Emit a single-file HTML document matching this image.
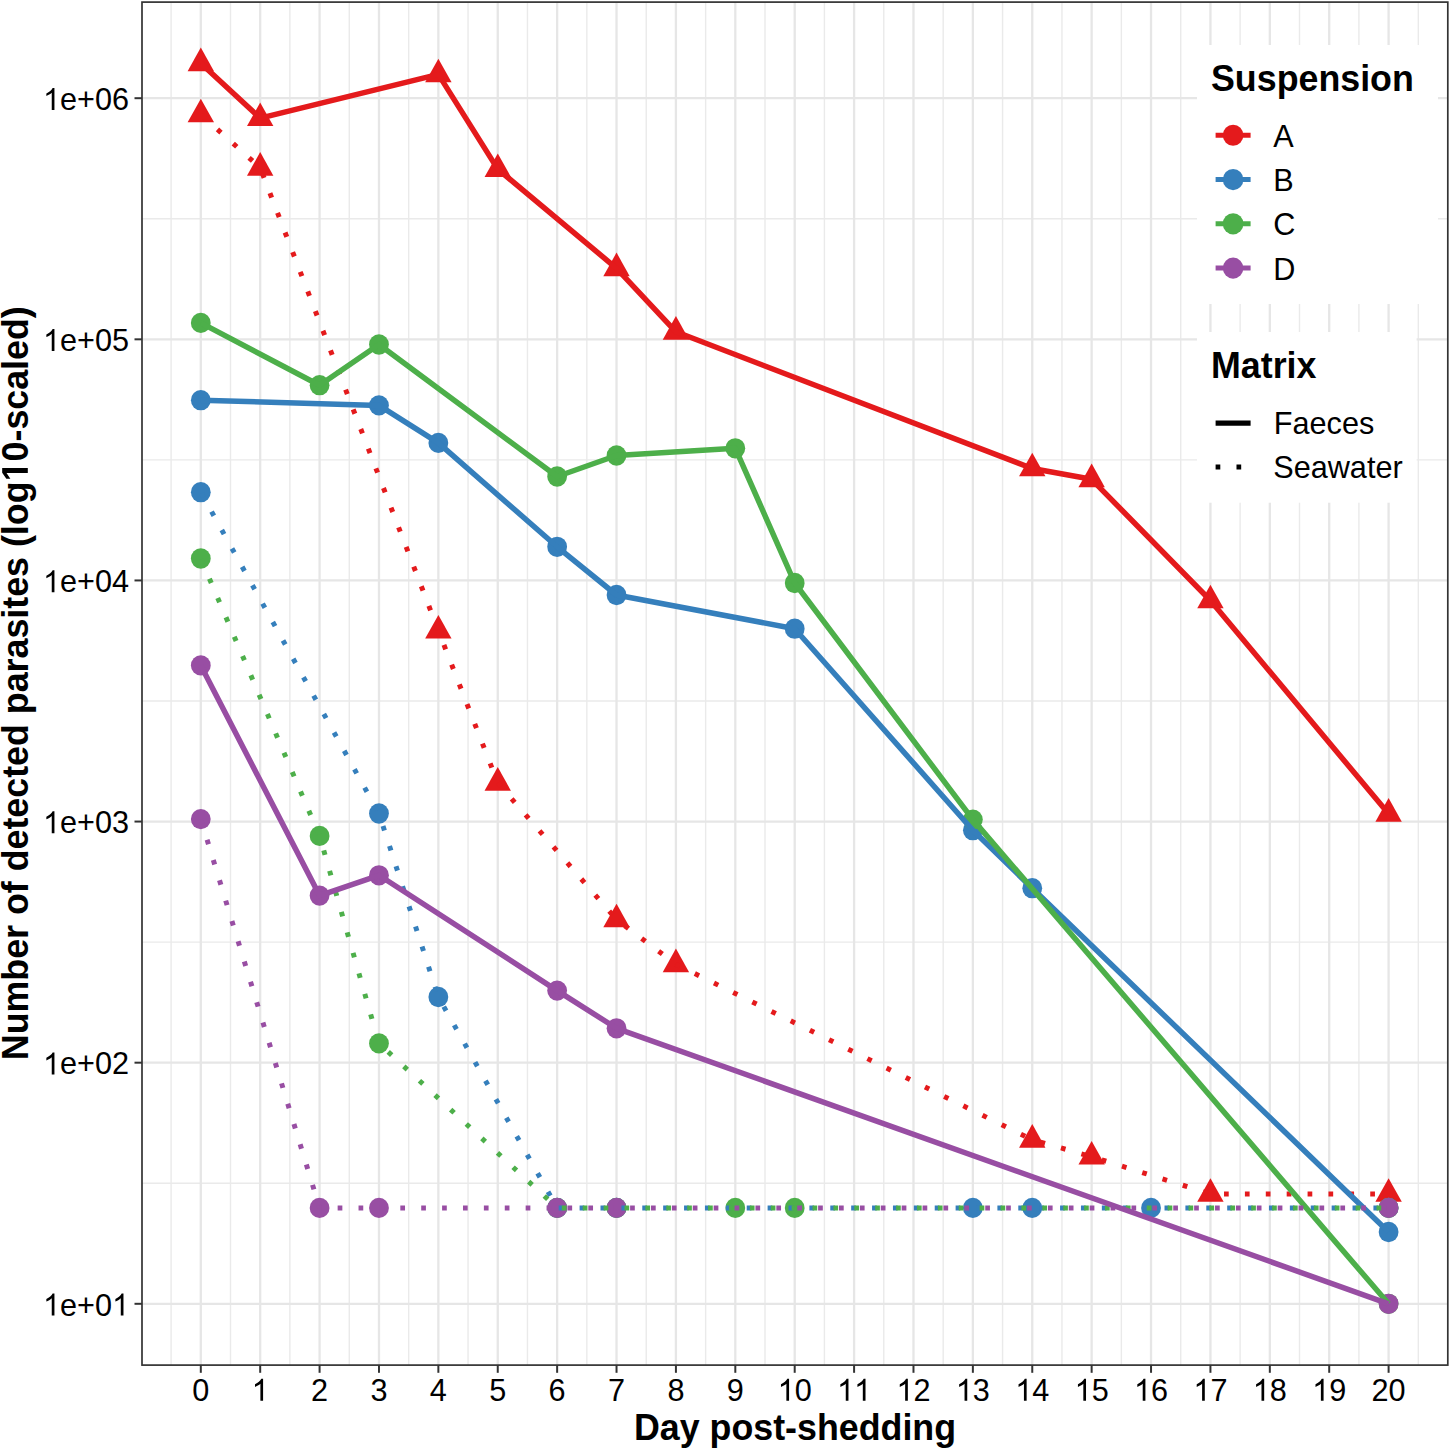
<!DOCTYPE html>
<html><head><meta charset="utf-8"><title>Parasite counts</title><style>html,body{margin:0;padding:0;background:#fff;overflow:hidden;width:1450px;height:1449px}svg{display:block}text{font-family:"Liberation Sans",sans-serif}</style></head><body>
<svg width="1450" height="1449" viewBox="0 0 1450 1449">
<rect x="0" y="0" width="1450" height="1449" fill="#fff"/>
<g stroke="#EAEAEA" stroke-width="1.4"><line x1="142.0" y1="1183.24" x2="1447.8" y2="1183.24"/><line x1="142.0" y1="942.12" x2="1447.8" y2="942.12"/><line x1="142.0" y1="701.00" x2="1447.8" y2="701.00"/><line x1="142.0" y1="459.88" x2="1447.8" y2="459.88"/><line x1="142.0" y1="218.76" x2="1447.8" y2="218.76"/><line x1="171.11" y1="2.1" x2="171.11" y2="1365.1"/><line x1="230.50" y1="2.1" x2="230.50" y2="1365.1"/><line x1="289.88" y1="2.1" x2="289.88" y2="1365.1"/><line x1="349.27" y1="2.1" x2="349.27" y2="1365.1"/><line x1="408.67" y1="2.1" x2="408.67" y2="1365.1"/><line x1="468.06" y1="2.1" x2="468.06" y2="1365.1"/><line x1="527.44" y1="2.1" x2="527.44" y2="1365.1"/><line x1="586.84" y1="2.1" x2="586.84" y2="1365.1"/><line x1="646.23" y1="2.1" x2="646.23" y2="1365.1"/><line x1="705.62" y1="2.1" x2="705.62" y2="1365.1"/><line x1="765.01" y1="2.1" x2="765.01" y2="1365.1"/><line x1="824.39" y1="2.1" x2="824.39" y2="1365.1"/><line x1="883.79" y1="2.1" x2="883.79" y2="1365.1"/><line x1="943.17" y1="2.1" x2="943.17" y2="1365.1"/><line x1="1002.57" y1="2.1" x2="1002.57" y2="1365.1"/><line x1="1061.95" y1="2.1" x2="1061.95" y2="1365.1"/><line x1="1121.35" y1="2.1" x2="1121.35" y2="1365.1"/><line x1="1180.74" y1="2.1" x2="1180.74" y2="1365.1"/><line x1="1240.12" y1="2.1" x2="1240.12" y2="1365.1"/><line x1="1299.51" y1="2.1" x2="1299.51" y2="1365.1"/><line x1="1358.90" y1="2.1" x2="1358.90" y2="1365.1"/><line x1="1418.30" y1="2.1" x2="1418.30" y2="1365.1"/></g><g stroke="#E6E6E6" stroke-width="2.3"><line x1="142.0" y1="1303.80" x2="1447.8" y2="1303.80"/><line x1="142.0" y1="1062.68" x2="1447.8" y2="1062.68"/><line x1="142.0" y1="821.56" x2="1447.8" y2="821.56"/><line x1="142.0" y1="580.44" x2="1447.8" y2="580.44"/><line x1="142.0" y1="339.32" x2="1447.8" y2="339.32"/><line x1="142.0" y1="98.20" x2="1447.8" y2="98.20"/><line x1="200.80" y1="2.1" x2="200.80" y2="1365.1"/><line x1="260.19" y1="2.1" x2="260.19" y2="1365.1"/><line x1="319.58" y1="2.1" x2="319.58" y2="1365.1"/><line x1="378.97" y1="2.1" x2="378.97" y2="1365.1"/><line x1="438.36" y1="2.1" x2="438.36" y2="1365.1"/><line x1="497.75" y1="2.1" x2="497.75" y2="1365.1"/><line x1="557.14" y1="2.1" x2="557.14" y2="1365.1"/><line x1="616.53" y1="2.1" x2="616.53" y2="1365.1"/><line x1="675.92" y1="2.1" x2="675.92" y2="1365.1"/><line x1="735.31" y1="2.1" x2="735.31" y2="1365.1"/><line x1="794.70" y1="2.1" x2="794.70" y2="1365.1"/><line x1="854.09" y1="2.1" x2="854.09" y2="1365.1"/><line x1="913.48" y1="2.1" x2="913.48" y2="1365.1"/><line x1="972.87" y1="2.1" x2="972.87" y2="1365.1"/><line x1="1032.26" y1="2.1" x2="1032.26" y2="1365.1"/><line x1="1091.65" y1="2.1" x2="1091.65" y2="1365.1"/><line x1="1151.04" y1="2.1" x2="1151.04" y2="1365.1"/><line x1="1210.43" y1="2.1" x2="1210.43" y2="1365.1"/><line x1="1269.82" y1="2.1" x2="1269.82" y2="1365.1"/><line x1="1329.21" y1="2.1" x2="1329.21" y2="1365.1"/><line x1="1388.60" y1="2.1" x2="1388.60" y2="1365.1"/></g>
<polygon points="200.80,47.60 214.00,71.15 187.60,71.15" fill="#E41A1C"/>
<polygon points="260.19,102.50 273.39,126.05 246.99,126.05" fill="#E41A1C"/>
<polygon points="438.36,58.70 451.56,82.25 425.16,82.25" fill="#E41A1C"/>
<polygon points="497.75,153.40 510.95,176.95 484.55,176.95" fill="#E41A1C"/>
<polygon points="616.53,252.60 629.73,276.15 603.33,276.15" fill="#E41A1C"/>
<polygon points="675.92,316.10 689.12,339.65 662.72,339.65" fill="#E41A1C"/>
<polygon points="1032.26,452.80 1045.46,476.35 1019.06,476.35" fill="#E41A1C"/>
<polygon points="1091.65,463.60 1104.85,487.15 1078.45,487.15" fill="#E41A1C"/>
<polygon points="1210.43,584.80 1223.63,608.35 1197.23,608.35" fill="#E41A1C"/>
<polygon points="1388.60,798.10 1401.80,821.65 1375.40,821.65" fill="#E41A1C"/>
<polygon points="200.80,98.70 214.00,122.25 187.60,122.25" fill="#E41A1C"/>
<polygon points="260.19,152.10 273.39,175.65 246.99,175.65" fill="#E41A1C"/>
<polygon points="438.36,614.90 451.56,638.45 425.16,638.45" fill="#E41A1C"/>
<polygon points="497.75,767.10 510.95,790.65 484.55,790.65" fill="#E41A1C"/>
<polygon points="616.53,903.80 629.73,927.35 603.33,927.35" fill="#E41A1C"/>
<polygon points="675.92,948.60 689.12,972.15 662.72,972.15" fill="#E41A1C"/>
<polygon points="1032.26,1124.10 1045.46,1147.65 1019.06,1147.65" fill="#E41A1C"/>
<polygon points="1091.65,1141.00 1104.85,1164.55 1078.45,1164.55" fill="#E41A1C"/>
<polygon points="1210.43,1178.20 1223.63,1201.75 1197.23,1201.75" fill="#E41A1C"/>
<polygon points="1388.60,1178.20 1401.80,1201.75 1375.40,1201.75" fill="#E41A1C"/>
<ellipse cx="200.80" cy="400.20" rx="9.90" ry="10.15" fill="#357FBC"/>
<ellipse cx="378.97" cy="405.40" rx="9.90" ry="10.15" fill="#357FBC"/>
<ellipse cx="438.36" cy="442.90" rx="9.90" ry="10.15" fill="#357FBC"/>
<ellipse cx="557.14" cy="546.80" rx="9.90" ry="10.15" fill="#357FBC"/>
<ellipse cx="616.53" cy="595.00" rx="9.90" ry="10.15" fill="#357FBC"/>
<ellipse cx="794.70" cy="628.70" rx="9.90" ry="10.15" fill="#357FBC"/>
<ellipse cx="972.87" cy="830.20" rx="9.90" ry="10.15" fill="#357FBC"/>
<ellipse cx="1032.26" cy="888.20" rx="9.90" ry="10.15" fill="#357FBC"/>
<ellipse cx="1388.60" cy="1232.00" rx="9.90" ry="10.15" fill="#357FBC"/>
<ellipse cx="200.80" cy="492.20" rx="9.90" ry="10.15" fill="#357FBC"/>
<ellipse cx="378.97" cy="813.50" rx="9.90" ry="10.15" fill="#357FBC"/>
<ellipse cx="438.36" cy="997.00" rx="9.90" ry="10.15" fill="#357FBC"/>
<ellipse cx="557.14" cy="1207.90" rx="9.90" ry="10.15" fill="#357FBC"/>
<ellipse cx="616.53" cy="1207.90" rx="9.90" ry="10.15" fill="#357FBC"/>
<ellipse cx="972.87" cy="1207.90" rx="9.90" ry="10.15" fill="#357FBC"/>
<ellipse cx="1032.26" cy="1207.90" rx="9.90" ry="10.15" fill="#357FBC"/>
<ellipse cx="1151.04" cy="1207.90" rx="9.90" ry="10.15" fill="#357FBC"/>
<ellipse cx="1388.60" cy="1207.90" rx="9.90" ry="10.15" fill="#357FBC"/>
<ellipse cx="200.80" cy="322.90" rx="9.90" ry="10.15" fill="#4DAF4A"/>
<ellipse cx="319.58" cy="385.20" rx="9.90" ry="10.15" fill="#4DAF4A"/>
<ellipse cx="378.97" cy="344.50" rx="9.90" ry="10.15" fill="#4DAF4A"/>
<ellipse cx="557.14" cy="476.50" rx="9.90" ry="10.15" fill="#4DAF4A"/>
<ellipse cx="616.53" cy="455.50" rx="9.90" ry="10.15" fill="#4DAF4A"/>
<ellipse cx="735.31" cy="448.30" rx="9.90" ry="10.15" fill="#4DAF4A"/>
<ellipse cx="794.70" cy="583.00" rx="9.90" ry="10.15" fill="#4DAF4A"/>
<ellipse cx="972.87" cy="819.60" rx="9.90" ry="10.15" fill="#4DAF4A"/>
<ellipse cx="1388.60" cy="1303.80" rx="9.90" ry="10.15" fill="#4DAF4A"/>
<ellipse cx="200.80" cy="558.50" rx="9.90" ry="10.15" fill="#4DAF4A"/>
<ellipse cx="319.58" cy="835.90" rx="9.90" ry="10.15" fill="#4DAF4A"/>
<ellipse cx="378.97" cy="1043.40" rx="9.90" ry="10.15" fill="#4DAF4A"/>
<ellipse cx="557.14" cy="1207.90" rx="9.90" ry="10.15" fill="#4DAF4A"/>
<ellipse cx="616.53" cy="1207.90" rx="9.90" ry="10.15" fill="#4DAF4A"/>
<ellipse cx="735.31" cy="1207.90" rx="9.90" ry="10.15" fill="#4DAF4A"/>
<ellipse cx="794.70" cy="1207.90" rx="9.90" ry="10.15" fill="#4DAF4A"/>
<ellipse cx="1388.60" cy="1207.90" rx="9.90" ry="10.15" fill="#4DAF4A"/>
<ellipse cx="200.80" cy="665.40" rx="9.90" ry="10.15" fill="#984EA3"/>
<ellipse cx="319.58" cy="895.60" rx="9.90" ry="10.15" fill="#984EA3"/>
<ellipse cx="378.97" cy="875.30" rx="9.90" ry="10.15" fill="#984EA3"/>
<ellipse cx="557.14" cy="990.60" rx="9.90" ry="10.15" fill="#984EA3"/>
<ellipse cx="616.53" cy="1028.30" rx="9.90" ry="10.15" fill="#984EA3"/>
<ellipse cx="1388.60" cy="1303.80" rx="9.90" ry="10.15" fill="#984EA3"/>
<ellipse cx="200.80" cy="819.10" rx="9.90" ry="10.15" fill="#984EA3"/>
<ellipse cx="319.58" cy="1207.90" rx="9.90" ry="10.15" fill="#984EA3"/>
<ellipse cx="378.97" cy="1207.90" rx="9.90" ry="10.15" fill="#984EA3"/>
<ellipse cx="557.14" cy="1207.90" rx="9.90" ry="10.15" fill="#984EA3"/>
<ellipse cx="616.53" cy="1207.90" rx="9.90" ry="10.15" fill="#984EA3"/>
<ellipse cx="1388.60" cy="1207.90" rx="9.90" ry="10.15" fill="#984EA3"/>
<polyline points="200.80,63.30 260.19,118.20 438.36,74.40 497.75,169.10 616.53,268.30 675.92,331.80 1032.26,468.50 1091.65,479.30 1210.43,600.50 1388.60,813.80" fill="none" stroke="#E41A1C" stroke-width="5.5" stroke-linejoin="round" stroke-linecap="butt"/>
<g stroke="#E41A1C" stroke-width="5.0" stroke-linecap="butt" fill="none"><line x1="200.80" y1="114.40" x2="260.19" y2="167.80" stroke-dasharray="4.7 16.540" stroke-dashoffset="20.050"/><line x1="260.19" y1="167.80" x2="438.36" y2="630.60" stroke-dasharray="4.7 16.360" stroke-dashoffset="14.930"/><line x1="438.36" y1="630.60" x2="497.75" y2="782.80" stroke-dasharray="4.7 16.480" stroke-dashoffset="5.820"/><line x1="497.75" y1="782.80" x2="616.53" y2="919.50" stroke-dasharray="4.7 16.550" stroke-dashoffset="0.060"/><line x1="616.53" y1="919.50" x2="675.92" y2="964.30" stroke-dasharray="4.7 16.540" stroke-dashoffset="11.030"/><line x1="675.92" y1="964.30" x2="1032.26" y2="1139.80" stroke-dasharray="4.7 16.680" stroke-dashoffset="0.310"/><line x1="1032.26" y1="1139.80" x2="1091.65" y2="1156.70" stroke-dasharray="4.7 16.540" stroke-dashoffset="12.630"/><line x1="1091.65" y1="1156.70" x2="1210.43" y2="1193.90" stroke-dasharray="4.7 16.540" stroke-dashoffset="10.690"/><line x1="1210.43" y1="1193.90" x2="1388.60" y2="1193.90" stroke-dasharray="4.7 16.190" stroke-dashoffset="7.300"/></g>
<polyline points="200.80,400.20 378.97,405.40 438.36,442.90 557.14,546.80 616.53,595.00 794.70,628.70 972.87,830.20 1032.26,888.20 1388.60,1232.00" fill="none" stroke="#357FBC" stroke-width="5.5" stroke-linejoin="round" stroke-linecap="butt"/>
<g stroke="#357FBC" stroke-width="5.0" stroke-linecap="butt" fill="none"><line x1="200.80" y1="492.20" x2="378.97" y2="813.50" stroke-dasharray="4.7 16.340" stroke-dashoffset="19.870"/><line x1="378.97" y1="813.50" x2="438.36" y2="997.00" stroke-dasharray="4.7 16.430" stroke-dashoffset="8.030"/><line x1="438.36" y1="997.00" x2="557.14" y2="1207.90" stroke-dasharray="4.7 16.540" stroke-dashoffset="10.190"/><line x1="557.14" y1="1207.90" x2="1388.60" y2="1207.90" stroke-dasharray="4.7 16.190" stroke-dashoffset="19.320"/></g>
<polyline points="200.80,322.90 319.58,385.20 378.97,344.50 557.14,476.50 616.53,455.50 735.31,448.30 794.70,583.00 972.87,819.60 1388.60,1303.80" fill="none" stroke="#4DAF4A" stroke-width="5.5" stroke-linejoin="round" stroke-linecap="butt"/>
<g stroke="#4DAF4A" stroke-width="5.0" stroke-linecap="butt" fill="none"><line x1="200.80" y1="558.50" x2="319.58" y2="835.90" stroke-dasharray="4.7 16.340" stroke-dashoffset="20.160"/><line x1="319.58" y1="835.90" x2="378.97" y2="1043.40" stroke-dasharray="4.7 16.620" stroke-dashoffset="6.230"/><line x1="378.97" y1="1043.40" x2="557.14" y2="1207.90" stroke-dasharray="4.7 16.540" stroke-dashoffset="8.630"/><line x1="557.14" y1="1207.90" x2="1388.60" y2="1207.90" stroke-dasharray="4.7 16.190" stroke-dashoffset="16.200"/></g>
<polyline points="200.80,665.40 319.58,895.60 378.97,875.30 557.14,990.60 616.53,1028.30 1388.60,1303.80" fill="none" stroke="#984EA3" stroke-width="5.5" stroke-linejoin="round" stroke-linecap="butt"/>
<g stroke="#984EA3" stroke-width="5.0" stroke-linecap="butt" fill="none"><line x1="200.80" y1="819.10" x2="319.58" y2="1207.90" stroke-dasharray="4.7 16.530" stroke-dashoffset="20.900"/><line x1="319.58" y1="1207.90" x2="1388.60" y2="1207.90" stroke-dasharray="4.7 16.190" stroke-dashoffset="2.820"/></g>
<rect x="142.0" y="2.1" width="1305.80" height="1363.00" fill="none" stroke="#333333" stroke-width="1.7"/>
<g stroke="#333333" stroke-width="2"><line x1="134.5" y1="1303.80" x2="142.0" y2="1303.80"/><line x1="134.5" y1="1062.68" x2="142.0" y2="1062.68"/><line x1="134.5" y1="821.56" x2="142.0" y2="821.56"/><line x1="134.5" y1="580.44" x2="142.0" y2="580.44"/><line x1="134.5" y1="339.32" x2="142.0" y2="339.32"/><line x1="134.5" y1="98.20" x2="142.0" y2="98.20"/><line x1="200.80" y1="1365.1" x2="200.80" y2="1372.8"/><line x1="260.19" y1="1365.1" x2="260.19" y2="1372.8"/><line x1="319.58" y1="1365.1" x2="319.58" y2="1372.8"/><line x1="378.97" y1="1365.1" x2="378.97" y2="1372.8"/><line x1="438.36" y1="1365.1" x2="438.36" y2="1372.8"/><line x1="497.75" y1="1365.1" x2="497.75" y2="1372.8"/><line x1="557.14" y1="1365.1" x2="557.14" y2="1372.8"/><line x1="616.53" y1="1365.1" x2="616.53" y2="1372.8"/><line x1="675.92" y1="1365.1" x2="675.92" y2="1372.8"/><line x1="735.31" y1="1365.1" x2="735.31" y2="1372.8"/><line x1="794.70" y1="1365.1" x2="794.70" y2="1372.8"/><line x1="854.09" y1="1365.1" x2="854.09" y2="1372.8"/><line x1="913.48" y1="1365.1" x2="913.48" y2="1372.8"/><line x1="972.87" y1="1365.1" x2="972.87" y2="1372.8"/><line x1="1032.26" y1="1365.1" x2="1032.26" y2="1372.8"/><line x1="1091.65" y1="1365.1" x2="1091.65" y2="1372.8"/><line x1="1151.04" y1="1365.1" x2="1151.04" y2="1372.8"/><line x1="1210.43" y1="1365.1" x2="1210.43" y2="1372.8"/><line x1="1269.82" y1="1365.1" x2="1269.82" y2="1372.8"/><line x1="1329.21" y1="1365.1" x2="1329.21" y2="1372.8"/><line x1="1388.60" y1="1365.1" x2="1388.60" y2="1372.8"/></g>
<path transform="translate(43.02,1315.50) scale(0.014966,-0.014966)" d="M763 0L583 0L583 1147C540 1106 483 1065 413 1024C343 983 280 952 223 929L223 1103C322 1149 409 1205 484 1270C559 1335 612 1400 643 1466L763 1466Z" fill="#000"/><text transform="translate(60.06,1315.50) scale(1,1.035)" font-size="30.65" text-anchor="start" fill="#000">e</text><text transform="translate(77.11,1315.50) scale(1,1.035)" font-size="30.65" text-anchor="start" fill="#000">+</text><text transform="translate(95.01,1315.50) scale(1,1.035)" font-size="30.65" text-anchor="start" fill="#000">0</text><path transform="translate(112.05,1315.50) scale(0.014966,-0.014966)" d="M763 0L583 0L583 1147C540 1106 483 1065 413 1024C343 983 280 952 223 929L223 1103C322 1149 409 1205 484 1270C559 1335 612 1400 643 1466L763 1466Z" fill="#000"/>
<path transform="translate(43.02,1074.38) scale(0.014966,-0.014966)" d="M763 0L583 0L583 1147C540 1106 483 1065 413 1024C343 983 280 952 223 929L223 1103C322 1149 409 1205 484 1270C559 1335 612 1400 643 1466L763 1466Z" fill="#000"/><text transform="translate(60.06,1074.38) scale(1,1.035)" font-size="30.65" text-anchor="start" fill="#000">e</text><text transform="translate(77.11,1074.38) scale(1,1.035)" font-size="30.65" text-anchor="start" fill="#000">+</text><text transform="translate(95.01,1074.38) scale(1,1.035)" font-size="30.65" text-anchor="start" fill="#000">0</text><text transform="translate(112.05,1074.38) scale(1,1.035)" font-size="30.65" text-anchor="start" fill="#000">2</text>
<path transform="translate(43.02,833.26) scale(0.014966,-0.014966)" d="M763 0L583 0L583 1147C540 1106 483 1065 413 1024C343 983 280 952 223 929L223 1103C322 1149 409 1205 484 1270C559 1335 612 1400 643 1466L763 1466Z" fill="#000"/><text transform="translate(60.06,833.26) scale(1,1.035)" font-size="30.65" text-anchor="start" fill="#000">e</text><text transform="translate(77.11,833.26) scale(1,1.035)" font-size="30.65" text-anchor="start" fill="#000">+</text><text transform="translate(95.01,833.26) scale(1,1.035)" font-size="30.65" text-anchor="start" fill="#000">0</text><text transform="translate(112.05,833.26) scale(1,1.035)" font-size="30.65" text-anchor="start" fill="#000">3</text>
<path transform="translate(43.02,592.14) scale(0.014966,-0.014966)" d="M763 0L583 0L583 1147C540 1106 483 1065 413 1024C343 983 280 952 223 929L223 1103C322 1149 409 1205 484 1270C559 1335 612 1400 643 1466L763 1466Z" fill="#000"/><text transform="translate(60.06,592.14) scale(1,1.035)" font-size="30.65" text-anchor="start" fill="#000">e</text><text transform="translate(77.11,592.14) scale(1,1.035)" font-size="30.65" text-anchor="start" fill="#000">+</text><text transform="translate(95.01,592.14) scale(1,1.035)" font-size="30.65" text-anchor="start" fill="#000">0</text><text transform="translate(112.05,592.14) scale(1,1.035)" font-size="30.65" text-anchor="start" fill="#000">4</text>
<path transform="translate(43.02,351.02) scale(0.014966,-0.014966)" d="M763 0L583 0L583 1147C540 1106 483 1065 413 1024C343 983 280 952 223 929L223 1103C322 1149 409 1205 484 1270C559 1335 612 1400 643 1466L763 1466Z" fill="#000"/><text transform="translate(60.06,351.02) scale(1,1.035)" font-size="30.65" text-anchor="start" fill="#000">e</text><text transform="translate(77.11,351.02) scale(1,1.035)" font-size="30.65" text-anchor="start" fill="#000">+</text><text transform="translate(95.01,351.02) scale(1,1.035)" font-size="30.65" text-anchor="start" fill="#000">0</text><text transform="translate(112.05,351.02) scale(1,1.035)" font-size="30.65" text-anchor="start" fill="#000">5</text>
<path transform="translate(43.02,109.90) scale(0.014966,-0.014966)" d="M763 0L583 0L583 1147C540 1106 483 1065 413 1024C343 983 280 952 223 929L223 1103C322 1149 409 1205 484 1270C559 1335 612 1400 643 1466L763 1466Z" fill="#000"/><text transform="translate(60.06,109.90) scale(1,1.035)" font-size="30.65" text-anchor="start" fill="#000">e</text><text transform="translate(77.11,109.90) scale(1,1.035)" font-size="30.65" text-anchor="start" fill="#000">+</text><text transform="translate(95.01,109.90) scale(1,1.035)" font-size="30.65" text-anchor="start" fill="#000">0</text><text transform="translate(112.05,109.90) scale(1,1.035)" font-size="30.65" text-anchor="start" fill="#000">6</text>
<text transform="translate(192.28,1400.80) scale(1,1.035)" font-size="30.65" text-anchor="start" fill="#000">0</text>
<path transform="translate(251.67,1400.80) scale(0.014966,-0.014966)" d="M763 0L583 0L583 1147C540 1106 483 1065 413 1024C343 983 280 952 223 929L223 1103C322 1149 409 1205 484 1270C559 1335 612 1400 643 1466L763 1466Z" fill="#000"/>
<text transform="translate(311.06,1400.80) scale(1,1.035)" font-size="30.65" text-anchor="start" fill="#000">2</text>
<text transform="translate(370.45,1400.80) scale(1,1.035)" font-size="30.65" text-anchor="start" fill="#000">3</text>
<text transform="translate(429.84,1400.80) scale(1,1.035)" font-size="30.65" text-anchor="start" fill="#000">4</text>
<text transform="translate(489.23,1400.80) scale(1,1.035)" font-size="30.65" text-anchor="start" fill="#000">5</text>
<text transform="translate(548.62,1400.80) scale(1,1.035)" font-size="30.65" text-anchor="start" fill="#000">6</text>
<text transform="translate(608.01,1400.80) scale(1,1.035)" font-size="30.65" text-anchor="start" fill="#000">7</text>
<text transform="translate(667.40,1400.80) scale(1,1.035)" font-size="30.65" text-anchor="start" fill="#000">8</text>
<text transform="translate(726.79,1400.80) scale(1,1.035)" font-size="30.65" text-anchor="start" fill="#000">9</text>
<path transform="translate(777.65,1400.80) scale(0.014966,-0.014966)" d="M763 0L583 0L583 1147C540 1106 483 1065 413 1024C343 983 280 952 223 929L223 1103C322 1149 409 1205 484 1270C559 1335 612 1400 643 1466L763 1466Z" fill="#000"/><text transform="translate(794.70,1400.80) scale(1,1.035)" font-size="30.65" text-anchor="start" fill="#000">0</text>
<path transform="translate(837.04,1400.80) scale(0.014966,-0.014966)" d="M763 0L583 0L583 1147C540 1106 483 1065 413 1024C343 983 280 952 223 929L223 1103C322 1149 409 1205 484 1270C559 1335 612 1400 643 1466L763 1466Z" fill="#000"/><path transform="translate(854.09,1400.80) scale(0.014966,-0.014966)" d="M763 0L583 0L583 1147C540 1106 483 1065 413 1024C343 983 280 952 223 929L223 1103C322 1149 409 1205 484 1270C559 1335 612 1400 643 1466L763 1466Z" fill="#000"/>
<path transform="translate(896.43,1400.80) scale(0.014966,-0.014966)" d="M763 0L583 0L583 1147C540 1106 483 1065 413 1024C343 983 280 952 223 929L223 1103C322 1149 409 1205 484 1270C559 1335 612 1400 643 1466L763 1466Z" fill="#000"/><text transform="translate(913.48,1400.80) scale(1,1.035)" font-size="30.65" text-anchor="start" fill="#000">2</text>
<path transform="translate(955.82,1400.80) scale(0.014966,-0.014966)" d="M763 0L583 0L583 1147C540 1106 483 1065 413 1024C343 983 280 952 223 929L223 1103C322 1149 409 1205 484 1270C559 1335 612 1400 643 1466L763 1466Z" fill="#000"/><text transform="translate(972.87,1400.80) scale(1,1.035)" font-size="30.65" text-anchor="start" fill="#000">3</text>
<path transform="translate(1015.21,1400.80) scale(0.014966,-0.014966)" d="M763 0L583 0L583 1147C540 1106 483 1065 413 1024C343 983 280 952 223 929L223 1103C322 1149 409 1205 484 1270C559 1335 612 1400 643 1466L763 1466Z" fill="#000"/><text transform="translate(1032.26,1400.80) scale(1,1.035)" font-size="30.65" text-anchor="start" fill="#000">4</text>
<path transform="translate(1074.60,1400.80) scale(0.014966,-0.014966)" d="M763 0L583 0L583 1147C540 1106 483 1065 413 1024C343 983 280 952 223 929L223 1103C322 1149 409 1205 484 1270C559 1335 612 1400 643 1466L763 1466Z" fill="#000"/><text transform="translate(1091.65,1400.80) scale(1,1.035)" font-size="30.65" text-anchor="start" fill="#000">5</text>
<path transform="translate(1133.99,1400.80) scale(0.014966,-0.014966)" d="M763 0L583 0L583 1147C540 1106 483 1065 413 1024C343 983 280 952 223 929L223 1103C322 1149 409 1205 484 1270C559 1335 612 1400 643 1466L763 1466Z" fill="#000"/><text transform="translate(1151.04,1400.80) scale(1,1.035)" font-size="30.65" text-anchor="start" fill="#000">6</text>
<path transform="translate(1193.38,1400.80) scale(0.014966,-0.014966)" d="M763 0L583 0L583 1147C540 1106 483 1065 413 1024C343 983 280 952 223 929L223 1103C322 1149 409 1205 484 1270C559 1335 612 1400 643 1466L763 1466Z" fill="#000"/><text transform="translate(1210.43,1400.80) scale(1,1.035)" font-size="30.65" text-anchor="start" fill="#000">7</text>
<path transform="translate(1252.77,1400.80) scale(0.014966,-0.014966)" d="M763 0L583 0L583 1147C540 1106 483 1065 413 1024C343 983 280 952 223 929L223 1103C322 1149 409 1205 484 1270C559 1335 612 1400 643 1466L763 1466Z" fill="#000"/><text transform="translate(1269.82,1400.80) scale(1,1.035)" font-size="30.65" text-anchor="start" fill="#000">8</text>
<path transform="translate(1312.16,1400.80) scale(0.014966,-0.014966)" d="M763 0L583 0L583 1147C540 1106 483 1065 413 1024C343 983 280 952 223 929L223 1103C322 1149 409 1205 484 1270C559 1335 612 1400 643 1466L763 1466Z" fill="#000"/><text transform="translate(1329.21,1400.80) scale(1,1.035)" font-size="30.65" text-anchor="start" fill="#000">9</text>
<text transform="translate(1371.55,1400.80) scale(1,1.035)" font-size="30.65" text-anchor="start" fill="#000">2</text><text transform="translate(1388.60,1400.80) scale(1,1.035)" font-size="30.65" text-anchor="start" fill="#000">0</text>
<text transform="translate(795,1439.7) scale(1,1.03)" font-size="35.8" font-weight="bold" text-anchor="middle" fill="#000">Day post-shedding</text>
<g transform="translate(27.8,683.2) rotate(-90) scale(1,1.03)"><text x="-377.00" y="0" font-size="35.8" font-weight="bold" fill="#000">Number of detected parasites (log</text><path transform="translate(201.88,0) scale(0.017480,-0.017655)" d="M759 0L478 0L478 1170L140 959L140 1180L493 1409L759 1409Z" fill="#000"/><text x="221.79" y="0" font-size="35.8" font-weight="bold" fill="#000">0-scaled)</text></g>
<rect x="1197" y="45" width="241" height="259" fill="#fff"/>
<rect x="1197" y="332" width="219.6" height="170.7" fill="#fff"/>
<text transform="translate(1211,90.6) scale(1,1.03)" font-size="35.8" font-weight="bold" fill="#000">Suspension</text>
<line x1="1215.6" y1="135.30" x2="1250.6" y2="135.30" stroke="#E41A1C" stroke-width="5.0"/>
<ellipse cx="1233.10" cy="135.30" rx="10.30" ry="10.56" fill="#E41A1C"/>
<text transform="translate(1273.20,146.80) scale(1,1.035)" font-size="30.65" text-anchor="start" fill="#000">A</text>
<line x1="1215.6" y1="179.57" x2="1250.6" y2="179.57" stroke="#357FBC" stroke-width="5.0"/>
<ellipse cx="1233.10" cy="179.57" rx="10.30" ry="10.56" fill="#357FBC"/>
<text transform="translate(1273.20,191.07) scale(1,1.035)" font-size="30.65" text-anchor="start" fill="#000">B</text>
<line x1="1215.6" y1="223.84" x2="1250.6" y2="223.84" stroke="#4DAF4A" stroke-width="5.0"/>
<ellipse cx="1233.10" cy="223.84" rx="10.30" ry="10.56" fill="#4DAF4A"/>
<text transform="translate(1273.20,235.34) scale(1,1.035)" font-size="30.65" text-anchor="start" fill="#000">C</text>
<line x1="1215.6" y1="268.11" x2="1250.6" y2="268.11" stroke="#984EA3" stroke-width="5.0"/>
<ellipse cx="1233.10" cy="268.11" rx="10.30" ry="10.56" fill="#984EA3"/>
<text transform="translate(1273.20,279.61) scale(1,1.035)" font-size="30.65" text-anchor="start" fill="#000">D</text>
<text transform="translate(1211,377.8) scale(1,1.03)" font-size="35.8" font-weight="bold" fill="#000">Matrix</text>
<line x1="1215.6" y1="423.1" x2="1250.6" y2="423.1" stroke="#000" stroke-width="5.2"/>
<line x1="1215.6" y1="466.9" x2="1250.6" y2="466.9" stroke="#000" stroke-width="5.0" stroke-dasharray="4.7 16.190"/>
<text transform="translate(1273.80,434.30) scale(1,1.035)" font-size="30.65" text-anchor="start" fill="#000">Faeces</text>
<text transform="translate(1273.20,477.90) scale(1,1.035)" font-size="30.65" text-anchor="start" fill="#000">Seawater</text>
</svg></body></html>
